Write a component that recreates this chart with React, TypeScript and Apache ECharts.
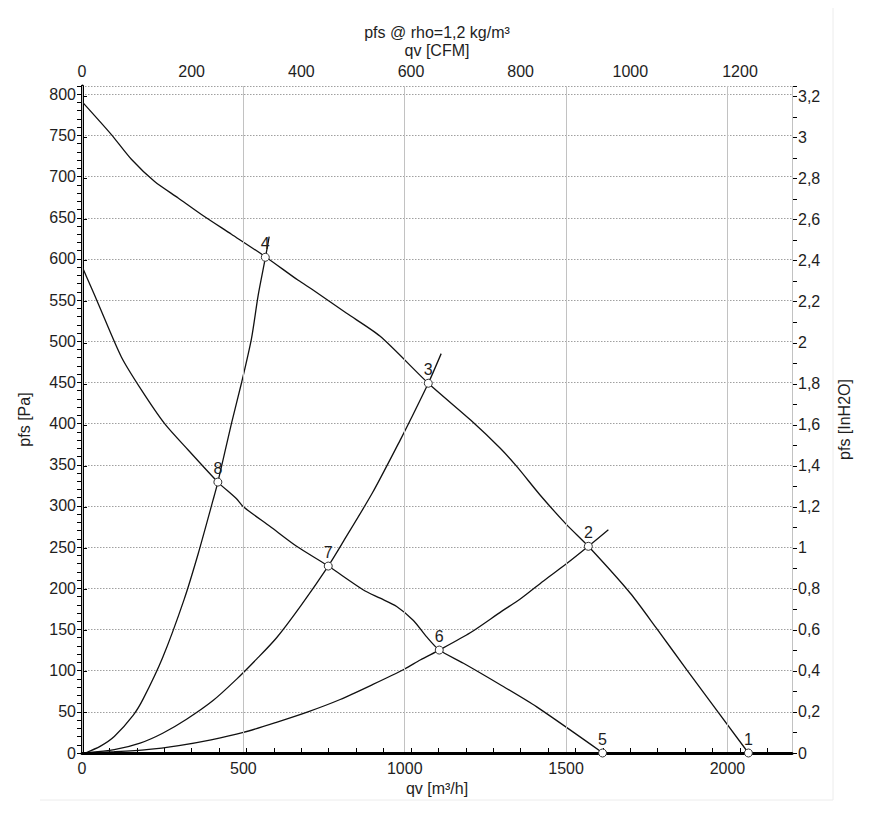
import React, { useEffect, useRef } from "react";
import * as echarts from "echarts";

// ---- data ----
// fan curve, high speed: [qv m³/h, pfs Pa]
const highSpeedCurve: number[][] = [
  [0, 791], [91, 751], [153, 721], [225, 694], [298, 674], [370, 654], [463, 630],
  [567, 603], [670, 574], [717, 562], [820, 534], [924, 506], [1073, 449], [1205, 404],
  [1296, 370], [1347, 348], [1420, 313], [1500, 278], [1569, 251], [1699, 194], [1781, 151],
  [1874, 101], [2065, 0],
];
// fan curve, low speed
const lowSpeedCurve: number[][] = [
  [0, 591], [29, 565], [50, 546], [122, 481], [184, 441], [256, 400], [329, 368],
  [421, 329], [478, 309], [500, 299], [583, 275], [665, 251], [763, 227], [872, 198],
  [924, 188], [975, 178], [1027, 161], [1068, 141], [1107, 125], [1182, 109],
  [1300, 82], [1409, 56], [1614, 0],
];
// system curves
const systemCurveA: number[][] = [
  [10, 0], [56, 8], [100, 20], [159, 46], [190, 66], [250, 116], [316, 186], [360, 242],
  [406, 307], [421, 329], [463, 400], [494, 449], [525, 503], [546, 556], [569, 603],
  [580, 627],
];
const systemCurveB: number[][] = [
  [10, 0], [100, 4], [180, 12], [250, 24], [324, 41], [407, 64], [480, 90], [541, 114],
  [603, 140], [680, 180], [763, 227], [810, 257], [900, 316], [986, 380], [1017, 404],
  [1073, 449], [1113, 485],
];
const systemCurveC: number[][] = [
  [10, 0], [100, 1.5], [200, 4], [300, 9], [400, 16], [500, 25], [600, 37], [700, 50],
  [800, 65], [900, 83], [1000, 102], [1048, 113], [1107, 125], [1203, 146], [1300, 172],
  [1358, 187], [1430, 209], [1502, 230], [1569, 251], [1631, 271],
];
// operating points
const pointQ = [2065, 1569, 1073, 568, 1613, 1107, 763, 421];
const pointP = [0, 251, 449, 602, 0, 125, 227, 329];
const pointLabels = ["1", "2", "3", "4", "5", "6", "7", "8"];

// axes
const qvMax = 2200; // m³/h
const pfsMax = 810; // Pa
const M3H_PER_CFM = 1.69901;
const PA_PER_INH2O = 249.089;
const qvStep = 500;
const cfmStep = 200;
const cfmMinorStep = 50;
const paStep = 50;
const paMinorStep = 10;
const inH2OStep = 0.2;
const inH2OMinorStep = 0.1;

const FONT = "'Liberation Sans', Arial, sans-serif";
const TXT = "#1e1e1e";

export default function App() {
  const ref = useRef<HTMLDivElement>(null);
  useEffect(() => {
    if (!ref.current) return;
    const chart = echarts.init(ref.current, null, { renderer: "svg" });
    const labelStyle = { fontSize: 16, color: TXT, fontFamily: FONT };
    const nameStyle = { fontSize: 16, color: TXT, fontFamily: FONT };
    const plain = (v: number) => String(Math.round(v * 10) / 10).replace(".", ",");
    const lineSeries = (data: number[][]) => ({
      type: "line",
      data,
      showSymbol: false,
      symbol: "none",
      smooth: 0.25,
      lineStyle: { color: "#111", width: 1.3 },
      z: 3,
      silent: true,
    });
    const tickOnly = (extra: any) => ({
      type: "value",
      axisLine: { show: false },
      axisTick: { show: true, inside: false, length: 5, lineStyle: { color: "#000", width: 1 } },
      axisLabel: { show: false },
      splitLine: { show: false },
      ...extra,
    });
    chart.setOption({
      animation: false,
      backgroundColor: "#fff",
      title: {
        text: "pfs @ rho=1,2 kg/m³",
        left: "center",
        top: 19,
        textStyle: { fontSize: 16, fontWeight: "normal", color: TXT, fontFamily: FONT },
      },
      grid: { left: 82, right: 82, top: 86, bottom: 75, containLabel: false },
      xAxis: [
        {
          type: "value",
          position: "bottom",
          min: 0,
          max: qvMax,
          interval: qvStep,
          axisLine: { show: true, lineStyle: { color: "#000", width: 3 } },
          axisTick: { show: false },
          axisLabel: { ...labelStyle, margin: 7, showMaxLabel: false, formatter: plain },
          splitLine: { show: true, lineStyle: { color: "#c2c2c2", width: 1 } },
          name: "qv [m³/h]",
          nameLocation: "middle",
          nameGap: 27,
          nameTextStyle: nameStyle,
          z: 4,
        },
        {
          type: "value",
          position: "top",
          min: 0,
          max: qvMax / M3H_PER_CFM,
          interval: cfmStep,
          axisLine: { show: true, lineStyle: { color: "#000", width: 2 } },
          axisTick: { show: true, inside: false, length: 5, lineStyle: { color: "#000" } },
          axisLabel: { ...labelStyle, margin: 7, showMaxLabel: false, formatter: plain },
          splitLine: { show: false },
          name: "qv [CFM]",
          nameLocation: "middle",
          nameGap: 28,
          nameTextStyle: nameStyle,
        },
        tickOnly({ position: "top", min: 0, max: qvMax / M3H_PER_CFM, interval: cfmMinorStep }),
      ],
      yAxis: [
        {
          type: "value",
          position: "left",
          min: 0,
          max: pfsMax,
          interval: paStep,
          axisLine: { show: true, lineStyle: { color: "#000", width: 3 } },
          axisTick: { show: true, inside: false, length: 5, lineStyle: { color: "#000" } },
          axisLabel: { ...labelStyle, margin: 6, showMaxLabel: false, formatter: plain },
          splitLine: { show: true, lineStyle: { color: "#a0a0a0", width: 1, type: [1.5, 1.5] } },
          name: "pfs [Pa]",
          nameLocation: "middle",
          nameRotate: 90,
          nameGap: 50,
          nameTextStyle: nameStyle,
        },
        {
          type: "value",
          position: "right",
          min: 0,
          max: pfsMax / PA_PER_INH2O,
          interval: inH2OStep,
          axisLine: { show: true, lineStyle: { color: "#000", width: 2 } },
          axisTick: { show: true, inside: false, length: 5, lineStyle: { color: "#000" } },
          axisLabel: { ...labelStyle, margin: 6, showMaxLabel: false, formatter: plain },
          splitLine: { show: false },
          name: "pfs [InH2O]",
          nameLocation: "middle",
          nameRotate: 90,
          nameGap: 44,
          nameTextStyle: nameStyle,
        },
        tickOnly({ position: "left", min: 0, max: pfsMax, interval: paMinorStep }),
        tickOnly({ position: "right", min: 0, max: pfsMax / PA_PER_INH2O, interval: inH2OMinorStep }),
      ],
      series: [
        lineSeries(highSpeedCurve),
        lineSeries(lowSpeedCurve),
        lineSeries(systemCurveA),
        lineSeries(systemCurveB),
        lineSeries(systemCurveC),
        {
          type: "scatter",
          data: pointQ.map((q, i) => [q, pointP[i], pointLabels[i]]),
          symbol: "circle",
          symbolSize: 8,
          itemStyle: { color: "#fff", borderColor: "#333", borderWidth: 1, opacity: 1 },
          label: {
            show: true,
            position: "top",
            distance: 1,
            formatter: (p: any) => p.value[2],
            fontSize: 16,
            color: TXT,
            fontFamily: FONT,
          },
          z: 5,
          silent: true,
        },
      ],
      graphic: [
        { type: "line", shape: { x1: 40, y1: 800, x2: 833, y2: 800 }, style: { stroke: "#ececec", lineWidth: 1 }, silent: true },
        { type: "line", shape: { x1: 833, y1: 8, x2: 833, y2: 800 }, style: { stroke: "#ececec", lineWidth: 1 }, silent: true },
      ],
    });
    return () => chart.dispose();
  }, []);
  return (
    <div
      ref={ref}
      style={{ position: "fixed", left: 0, top: 0, width: 874, height: 828, background: "#fff" }}
    />
  );
}
